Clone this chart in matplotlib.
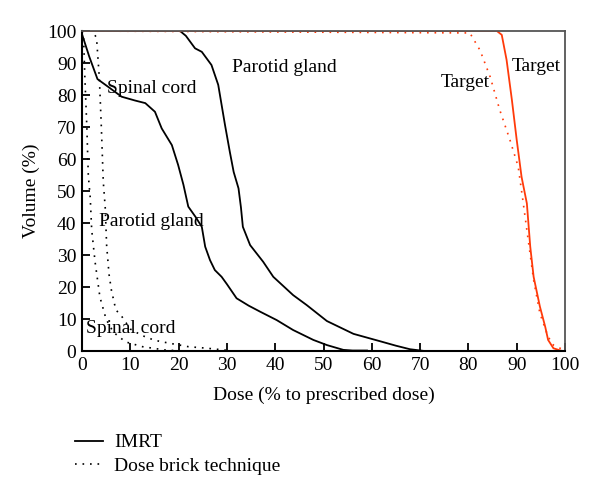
import matplotlib
matplotlib.use('Agg')
import matplotlib.pyplot as plt
import numpy as np

plt.rcParams['font.family'] = ['Liberation Serif', 'DejaVu Serif']

# IMRT (solid) curves
imrt_cord_x = [0, 1.5, 3.2, 5.4, 8.2, 11, 13.1, 15.1, 16.5, 18.6, 19.9, 21.0, 22.0, 23.5, 24.8, 25.5,
               26.5, 27.5, 28.9, 30.0, 32.0, 34.5, 36.9, 40.3, 43.7, 47.9, 50.7, 54.1, 56, 59]
imrt_cord_y = [99, 92, 85, 82.6, 79.5, 78.3, 77.5, 74.8, 69.6, 64.4, 58.2, 52, 45.2, 42, 38.9, 32.7,
               28.5, 25.4, 23.3, 21, 16.6, 14.3, 12.4, 9.8, 6.7, 3.6, 2.0, 0.5, 0.3, 0.3]

imrt_par_x = [0, 20.3, 21.5, 23.4, 24.8, 26.8, 28.2, 29.6, 30.6, 31.4, 32.4, 32.9, 33.3, 34.8, 37.5,
              39.6, 43.7, 46.5, 50.7, 56.2, 61.7, 65, 67.9, 71.7]
imrt_par_y = [100, 100, 98.5, 94.6, 93.5, 89.4, 83.2, 70.7, 62.3, 56, 50.9, 45, 38.9, 33.2, 28,
              23.3, 17.6, 14.5, 9.5, 5.5, 3.2, 1.8, 0.7, 0]

imrt_tgt_x = [0, 85.9, 86.9, 87.9, 89.0, 90.0, 91.0, 92.1, 92.8, 93.5, 94.8, 95.9, 96.5, 97.6, 99.7]
imrt_tgt_y = [100, 100, 98.8, 91, 78.5, 66, 54.5, 46.2, 32.7, 23.3, 14, 7.7, 3.6, 1, 0]

# Dose brick technique (dotted) curves
brick_cord_x = [0, 0.3, 0.6, 1.0, 1.3, 1.7, 2.0, 2.7, 3.7, 5.0, 6.5, 9.0, 12.5, 17, 22]
brick_cord_y = [100, 99, 85, 70, 55, 48, 38, 28, 17, 10, 6, 3, 1.5, 0.5, 0]

brick_par_x = [0, 2.0, 3.0, 3.6, 4.0, 4.4, 4.8, 5.1, 5.6, 6.1, 7.0, 8.2, 10, 12.4, 15, 18, 22, 26, 31]
brick_par_y = [100, 100, 98, 85, 70, 53, 45, 33, 24, 19, 13, 11, 7, 5, 3.5, 2.6, 1.5, 1, 0.2]

brick_tgt_x = [0, 80.3, 82.4, 84.5, 86.5, 88.6, 90.3, 91.2, 92.1, 93.5, 94.8, 96.5, 97.6, 99.7]
brick_tgt_y = [100, 99.4, 94, 85.7, 75.3, 66, 57.7, 48, 37.9, 22.3, 11.9, 4.6, 2, 0.5]

labels = [("Parotid gland", 41.8, 88.5), ("Spinal cord", 14.5, 82.2),
          ("Parotid gland", 14.3, 40.7), ("Spinal cord", 10.1, 7.3),
          ("Target", 79.3, 83.8), ("Target", 94.0, 88.8)]

red = '#ff3a0a'
dots = (0, (1, 3.5))
fs = 14

fig = plt.figure(figsize=(6, 4.97), dpi=100)
ax = fig.add_axes([0.1367, 0.2928, 0.805, 0.6448])

ax.plot(brick_cord_x, brick_cord_y, color='black', lw=1.2, linestyle=dots)
ax.plot(brick_par_x, brick_par_y, color='black', lw=1.2, linestyle=dots)
ax.plot(imrt_cord_x, imrt_cord_y, color='black', lw=1.3)
ax.plot(imrt_par_x, imrt_par_y, color='black', lw=1.3)
ax.plot(brick_tgt_x, brick_tgt_y, color=red, lw=1.2, linestyle=dots)
ax.plot(imrt_tgt_x, imrt_tgt_y, color=red, lw=1.3)

for txt, x, y in labels:
    ax.text(x, y, txt, ha='center', va='center', fontsize=fs)

ax.set_xlim(0, 100)
ax.set_ylim(0, 100)
ax.set_xticks(np.arange(0, 101, 10))
ax.set_yticks(np.arange(0, 101, 10))
ax.tick_params(direction='in', length=6, width=1.3, labelsize=fs, pad=4)
for s in ['left', 'bottom']:
    ax.spines[s].set_linewidth(1.5)
    ax.spines[s].set_color('black')
for s in ['right', 'top']:
    ax.spines[s].set_linewidth(1.3)
    ax.spines[s].set_color('#555555')

ax.set_xlabel('Dose (% to prescribed dose)', fontsize=fs, labelpad=9)
ax.set_ylabel('Volume (%)', fontsize=fs, labelpad=5)

h1, = ax.plot([], [], color='black', lw=1.3, label='IMRT')
h2, = ax.plot([], [], color='black', lw=1.2, linestyle=dots, label='Dose brick technique')
fig.legend(handles=[h1, h2], loc='upper left', bbox_to_anchor=(0.112, 0.143),
           frameon=False, fontsize=fs, handlelength=1.45, handletextpad=0.55,
           labelspacing=0.3, borderaxespad=0)

fig.savefig('out.png', dpi=100)
